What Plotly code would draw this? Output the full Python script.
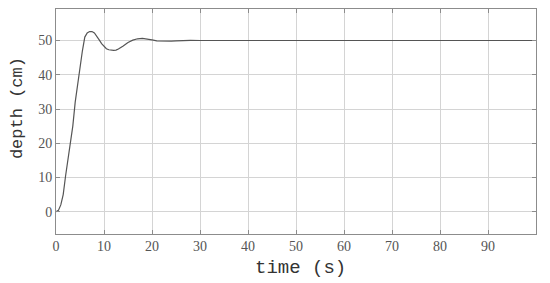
import plotly.graph_objects as go

# step response
time_s = [0, 0.5, 1, 1.5, 2, 2.5, 3, 3.5, 4, 4.5, 5, 5.5, 6, 6.5, 7, 7.5, 8, 8.5, 9,
          9.5, 10, 10.5, 11, 11.5, 12, 12.5, 13, 14, 15, 16, 17, 18, 19, 20, 21, 22,
          23, 24, 25, 26, 27, 28, 30, 35, 40, 100]
depth_cm = [0, 0.4, 2, 5, 10.5, 15.5, 20, 25, 32, 37.5, 42.5, 47, 51, 52.2, 52.6, 52.6,
            52.2, 51.3, 50.2, 49.1, 48.2, 47.6, 47.3, 47.1, 47.1, 47.2, 47.5, 48.4, 49.4,
            50.1, 50.5, 50.6, 50.5, 50.2, 49.9, 49.8, 49.75, 49.8, 49.9, 50.0, 50.05,
            50.05, 50.0, 50.0, 50.0, 50.0]
x_ticks = [0, 10, 20, 30, 40, 50, 60, 70, 80, 90]
y_ticks = [0, 10, 20, 30, 40, 50]

fig = go.Figure()
fig.add_trace(go.Scatter(x=time_s, y=depth_cm, mode="lines", line=dict(color="#555555", width=1.2)))

axis_style = dict(showgrid=True, gridcolor="#d4d4d4", gridwidth=1, showline=True, linecolor="#8c8c8c",
                  linewidth=1, mirror="ticks", ticks="inside", ticklen=4, tickcolor="#8c8c8c",
                  zeroline=False, automargin=False,
                  tickfont=dict(family="Liberation Serif", size=14, color="#555"))

fig.update_xaxes(range=[0, 100], tickvals=x_ticks, ticklabelstandoff=-1, **axis_style)
fig.update_yaxes(range=[-6.5, 59.2], tickvals=y_ticks, **axis_style)

fig.add_annotation(text="time (s)", xref="paper", yref="paper", x=0.51, y=-0.151, showarrow=False,
                   xanchor="center", yanchor="middle", font=dict(family="Liberation Mono", size=19, color="#333"))
fig.add_annotation(text="depth (cm)", xref="paper", yref="paper", x=-0.079, y=0.56, showarrow=False,
                   textangle=-90, xanchor="center", yanchor="middle",
                   font=dict(family="Liberation Mono", size=17, color="#333"))

# page body adds 8px around the figure, so size it to fit the window
fig.update_layout(width=542, height=275, margin=dict(l=48, r=14, t=1, b=49),
                  plot_bgcolor="white", paper_bgcolor="white", showlegend=False)
fig.write_html("out.html")
